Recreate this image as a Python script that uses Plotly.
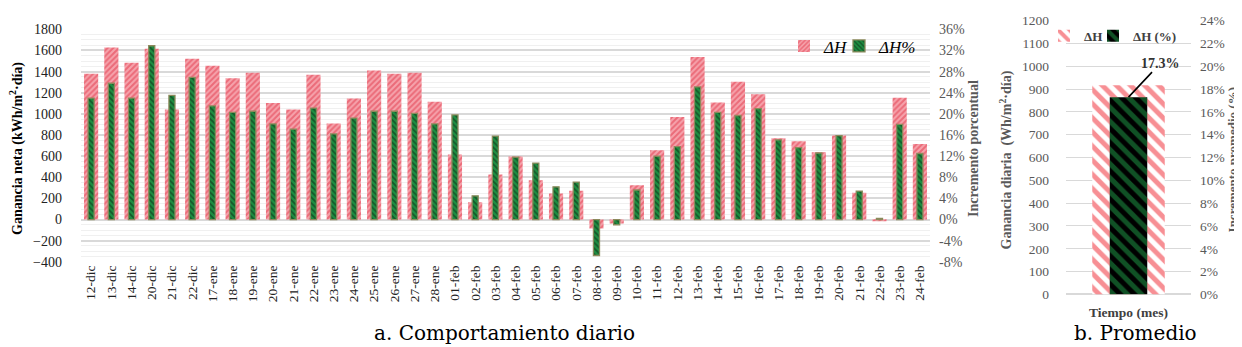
import plotly.graph_objects as go

W, H = 1242, 347


def px(x):
    return x / W


def py(y):
    return 1 - y / H


# ---------------- data ----------------
days = ["12-dic", "13-dic", "14-dic", "20-dic", "21-dic", "22-dic",
        "17-ene", "18-ene", "19-ene", "20-ene", "21-ene", "22-ene", "23-ene",
        "24-ene", "25-ene", "26-ene", "27-ene", "28-ene",
        "01-feb", "02-feb", "03-feb", "04-feb", "05-feb", "06-feb", "07-feb",
        "08-feb", "09-feb", "10-feb", "11-feb", "12-feb", "13-feb", "14-feb",
        "15-feb", "16-feb", "17-feb", "18-feb", "19-feb", "20-feb", "21-feb",
        "22-feb", "23-feb", "24-feb"]

delta_H = [1380, 1629, 1485, 1617, 1041, 1521,
           1455, 1338, 1389, 1104, 1041, 1370, 909,
           1146, 1410, 1380, 1389, 1116,
           615, 165, 426, 597, 372, 246, 273,
           -84, -36, 325, 657, 971, 1538, 1107,
           1303, 1185, 769, 742, 636, 796, 253,
           -10, 1152, 714]

delta_H_pct = [23.0, 25.8, 23.0, 32.9, 23.5, 26.9,
               21.5, 20.3, 20.5, 18.1, 17.1, 21.1, 16.2,
               19.2, 20.5, 20.5, 20.1, 18.1,
               19.8, 4.5, 15.8, 11.8, 10.7, 6.2, 7.1,
               -6.8, -1.0, 5.6, 12.0, 13.8, 25.1, 20.3,
               19.7, 21.0, 15.1, 13.6, 12.6, 15.9, 5.4,
               0.2, 18.0, 12.5]

avg_cat = ["Tiempo (mes)"]
avg_delta_H = [917]
avg_delta_H_pct = [17.3]

left_ticks_pct = list(range(-8, 37, 4))
right_ticks_pct = list(range(0, 25, 2))

SERIF = "Liberation Serif, Times New Roman, Times, serif"
CAPTION = "DejaVu Serif, Noto Serif, serif"
RED = "#E23345"
PINK = "#F5A3AC"
GREEN = "#1E8F42"
GRID = "#D9D9D9"
GRAY = "#595959"

fig = go.Figure()

# ---------------- left panel ----------------
fig.add_trace(go.Bar(
    x=days, y=delta_H, name="<i>ΔH</i>", xaxis="x", yaxis="y",
    width=0.7,
    marker=dict(color=PINK, line=dict(width=0),
                pattern=dict(shape="/", fgcolor=RED, bgcolor=PINK, size=4, solidity=0.5)),
    legend="legend",
))
fig.add_trace(go.Bar(
    x=days, y=delta_H_pct, name="<i>ΔH%</i>", xaxis="x", yaxis="y2",
    width=0.3,
    marker=dict(color=GREEN, line=dict(width=1.3, color="#8C8A5C"),
                pattern=dict(shape="\\", fgcolor="#0B1F10", bgcolor=GREEN, size=4, solidity=0.45)),
    legend="legend2",
))

# ---------------- right panel ----------------
fig.add_trace(go.Bar(
    x=avg_cat, y=avg_delta_H, name="<b>ΔH</b>", xaxis="x2", yaxis="y3",
    width=0.58,
    marker=dict(color="white", line=dict(width=0),
                pattern=dict(shape="\\", fgcolor="#F0202A", bgcolor="white", size=10, solidity=0.5)),
    legend="legend3",
))
fig.add_trace(go.Bar(
    x=avg_cat, y=avg_delta_H_pct, name="<b>ΔH (%)</b>", xaxis="x2", yaxis="y4",
    width=0.3,
    marker=dict(color="black", line=dict(width=0),
                pattern=dict(shape="\\", fgcolor="#1FA24A", bgcolor="black", size=10, solidity=0.5)),
    legend="legend4",
))

tickfont = dict(family=SERIF, size=14, color="#222222")


def leg(x, y, size, color):
    return dict(orientation="h", x=px(x), y=py(y), xanchor="left", yanchor="top",
                font=dict(family=SERIF, size=size, color=color),
                bgcolor="rgba(0,0,0,0)", itemwidth=30)


fig.update_layout(
    width=W, height=H,
    margin=dict(l=0, r=0, t=0, b=0),
    paper_bgcolor="white", plot_bgcolor="white",
    font=dict(family=SERIF),
    barmode="overlay",
    showlegend=True,
    xaxis=dict(domain=[px(73), px(922)], anchor="y", type="category",
               tickangle=-90, tickfont=dict(family=SERIF, size=13.5, color="#222222"),
               showgrid=False, showline=False, ticks="", ticklabelstandoff=0),
    yaxis=dict(domain=[py(258), py(15)], anchor="x", range=[-400, 1800],
               dtick=200, tick0=0, tickfont=tickfont,
               showgrid=True, gridcolor=GRID, gridwidth=1.5,
               zeroline=True, zerolinecolor=GRID, zerolinewidth=1.5,
               minor=dict(dtick=50, tick0=0, showgrid=True, gridcolor="#F0F0F0", gridwidth=1),
               ticks="", ticklabelstandoff=18),
    yaxis2=dict(overlaying="y", anchor="x", side="right", range=[-8, 36],
                tickvals=left_ticks_pct, ticktext=["%d%%" % v for v in left_ticks_pct],
                tickfont=dict(family=SERIF, size=14, color=GRAY),
                showgrid=False, zeroline=False, ticks="", ticklabelstandoff=8),
    xaxis2=dict(domain=[px(1058), px(1183)], anchor="y3", type="category",
                tickvals=avg_cat, ticktext=["<b>%s</b>" % c for c in avg_cat],
                tickfont=dict(family=SERIF, size=13.5, color="#404040"),
                showgrid=False, showline=False, ticks="", ticklabelstandoff=8),
    yaxis3=dict(domain=[py(292), py(6)], anchor="x2", range=[0, 1200],
                dtick=100, tickfont=dict(family=SERIF, size=13.5, color=GRAY),
                showgrid=True, gridcolor=GRID, gridwidth=1,
                zeroline=True, zerolinecolor=GRID,
                ticks="", ticklabelstandoff=16),
    yaxis4=dict(overlaying="y3", anchor="x2", side="right", range=[0, 24],
                tickvals=right_ticks_pct, ticktext=["%d%%" % v for v in right_ticks_pct],
                tickfont=dict(family=SERIF, size=13.5, color=GRAY),
                showgrid=False, zeroline=False, ticks="", ticklabelstandoff=8),
    legend=leg(776, 14, 17, "black"),
    legend2=leg(831, 14, 17, "black"),
    legend3=leg(1036, 6, 13, "#404040"),
    legend4=leg(1085, 6, 13, "#404040"),
)

annots = [
    dict(text="<b>Ganancia neta (kWh/m<sup>2</sup>·día)</b>", x=px(9), y=py(140),
         textangle=-90, font=dict(family=SERIF, size=14, color="black")),
    dict(text="<b>Incremento porcentual</b>", x=px(966), y=py(140),
         textangle=-90, font=dict(family=SERIF, size=14, color=GRAY)),
    dict(text="<b>Ganancia diaria  (Wh/m<sup>2</sup>·día)</b>", x=px(998), y=py(152),
         textangle=-90, font=dict(family=SERIF, size=14, color=GRAY)),
    dict(text="<b>Incremento promedio (%)</b>", x=px(1224), y=py(152),
         textangle=-90, font=dict(family=SERIF, size=13, color=GRAY)),
    dict(text="a. Comportamiento diario", x=px(496), y=py(332),
         font=dict(family=CAPTION, size=20, color="black")),
    dict(text="b. Promedio", x=px(1127), y=py(332),
         font=dict(family=CAPTION, size=20, color="black")),
]
for a in annots:
    fig.add_annotation(xref="paper", yref="paper", showarrow=False,
                       xanchor="center", yanchor="middle", **a)

fig.add_annotation(
    xref="x2", yref="y4", x=avg_cat[0], y=avg_delta_H_pct[0],
    text="<b>%.1f%%</b>" % avg_delta_H_pct[0],
    showarrow=True, arrowhead=0, arrowwidth=1.6, arrowcolor="black",
    ax=32, ay=-34, font=dict(family=SERIF, size=14, color="#333333"),
)

fig.write_html("out.html")
